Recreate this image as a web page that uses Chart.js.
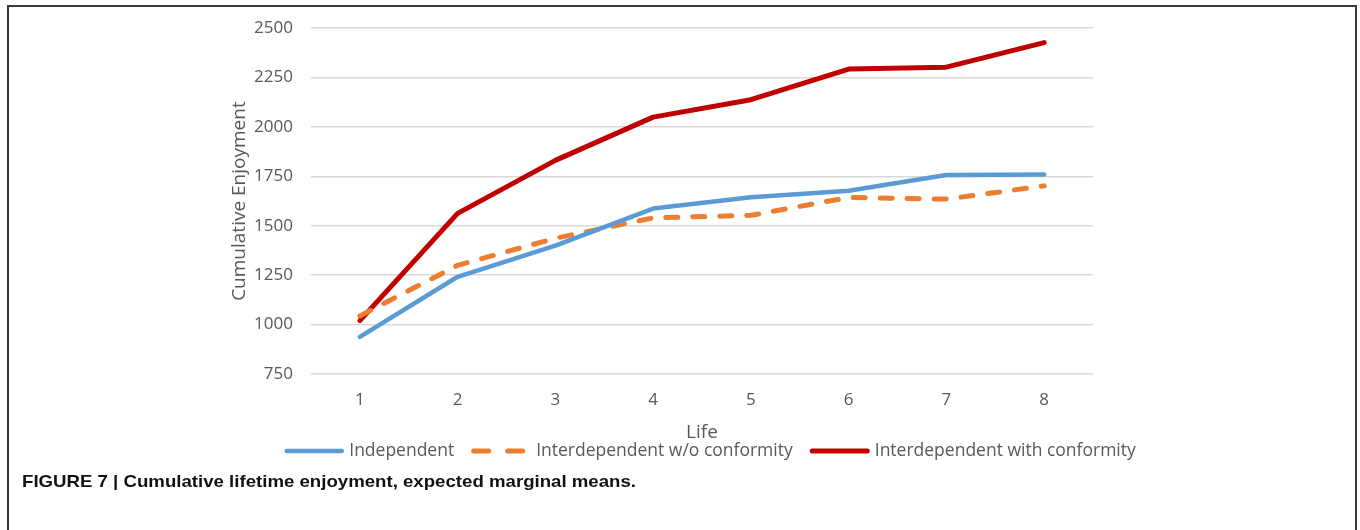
<!DOCTYPE html>
<html>
<head>
<meta charset="utf-8">
<script src="https://cdn.jsdelivr.net/npm/chart.js@4"></script>
<style>
  html, body { margin: 0; padding: 0; background: #fff; }
  #wrap { position: relative; width: 1360px; height: 530px; overflow: hidden; }
  #frame { position: absolute; left: 7px; top: 5px; width: 1346px; height: 600px;
           border: 2px solid #3a3a3a; border-bottom: none; }
  #caption { position: absolute; left: 22px; top: 472px; font: bold 17px "Liberation Sans", Arial, sans-serif;
             color: #111; white-space: nowrap; transform-origin: 0 0; line-height: 19px; }
  canvas { position: absolute; left: 0; top: 0; }
</style>
</head>
<body>
<div id="wrap">
  <div id="frame"></div>
  <canvas id="enjoyChart" width="1360" height="530"></canvas>
  <div id="caption">FIGURE 7 | Cumulative lifetime enjoyment, expected marginal means.</div>
</div>
<script>
const lives = ['1', '2', '3', '4', '5', '6', '7', '8'];
const independent = [938, 1242, 1400, 1587, 1644, 1677, 1757, 1760];
const interdepNoConformity = [1044, 1300, 1437, 1540, 1553, 1643, 1635, 1702];
const interdepConformity = [1020, 1563, 1831, 2050, 2138, 2293, 2303, 2427];
const yTicks = [750, 1000, 1250, 1500, 1750, 2000, 2250, 2500];

const textColor = '#595959';
const font = '"Open Sans", sans-serif';

// legend drawn underneath the axis title, Excel style
const bottomLegend = {
  id: 'bottomLegend',
  afterDraw(chart) {
    const ctx = chart.ctx;
    const items = chart.data.datasets;
    ctx.save();
    ctx.font = '17.5px ' + font;
    ctx.textBaseline = 'middle';
    const sampleW = 60, textGap = 5, itemGap = 17;
    let total = 0;
    const widths = items.map(ds => {
      const w = sampleW + textGap + ctx.measureText(ds.label).width;
      total += w;
      return w;
    });
    total += itemGap * (items.length - 1);
    let x = 710 - total / 2;
    const y = 451;
    items.forEach((ds, i) => {
      ctx.strokeStyle = ds.borderColor;
      ctx.lineWidth = ds.borderWidth;
      ctx.lineCap = 'round';
      ctx.setLineDash(ds.borderDash && ds.borderDash.length ? [15, 19] : []);
      ctx.beginPath();
      ctx.moveTo(x + 2.5, y);
      ctx.lineTo(x + sampleW - 2.5, y);
      ctx.stroke();
      ctx.setLineDash([]);
      ctx.fillStyle = textColor;
      ctx.fillText(ds.label, x + sampleW + textGap, y);
      x += widths[i] + itemGap;
    });
    ctx.restore();
  }
};

const ctx = document.getElementById('enjoyChart').getContext('2d');
const enjoyChart = new Chart(ctx, {
  type: 'line',
  data: {
    labels: lives,
    datasets: [
      {
        label: 'Independent',
        data: independent,
        borderColor: '#5b9bd5',
        borderWidth: 4.5
      },
      {
        label: 'Interdependent w/o conformity',
        data: interdepNoConformity,
        borderColor: '#ed7d31',
        borderWidth: 5,
        borderDash: [12, 15]
      },
      {
        label: 'Interdependent with conformity',
        data: interdepConformity,
        borderColor: '#c00000',
        borderWidth: 5
      }
    ]
  },
  options: {
    responsive: false,
    animation: false,
    layout: { padding: { left: 0, right: 267, top: 28, bottom: 86 } },
    elements: {
      point: { radius: 0 },
      line: { tension: 0, borderCapStyle: 'round', borderJoinStyle: 'round' }
    },
    plugins: {
      legend: { display: false },
      tooltip: { enabled: false }
    },
    scales: {
      x: {
        offset: true,
        grid: { display: false, drawTicks: false },
        border: { display: false },
        ticks: { color: textColor, font: { family: font, size: 17 }, padding: 16 },
        title: { display: true, text: 'Life', color: textColor, font: { family: font, size: 19 }, padding: 0 },
        afterFit(scale) { scale.height = 70; }
      },
      y: {
        min: 750,
        max: 2500,
        afterBuildTicks(scale) { scale.ticks = yTicks.map(v => ({ value: v })); },
        grid: { color: '#d9d9d9', lineWidth: 1.5, drawTicks: false },
        border: { display: false },
        ticks: {
          color: textColor, font: { family: font, size: 17 }, padding: 18,
          callback: v => String(v)
        },
        title: { display: true, text: 'Cumulative Enjoyment', color: textColor,
                 font: { family: font, size: 19 }, padding: { top: 228 } },
        afterFit(scale) { scale.width = 311; }
      }
    }
  },
  plugins: [bottomLegend]
});

// squeeze caption to the condensed width of the original
const cap = document.getElementById('caption');
const capW = cap.getBoundingClientRect().width;
cap.style.transform = 'scaleX(' + (614 / capW) + ')';
</script>
</body>
</html>
